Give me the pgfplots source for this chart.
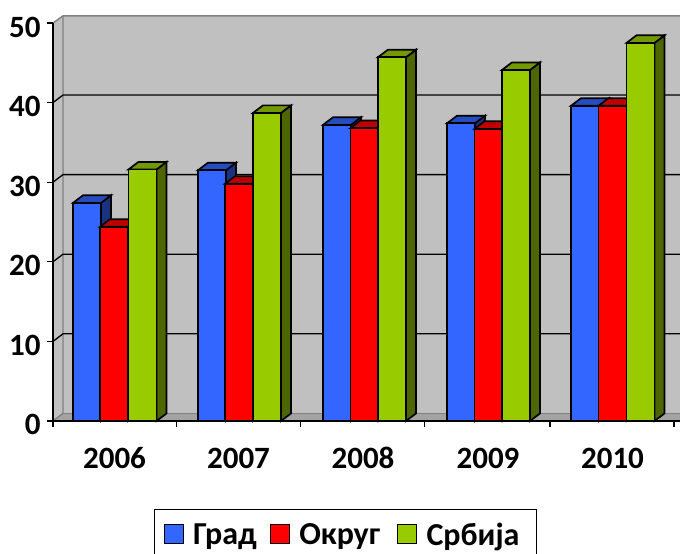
\documentclass[border=0pt]{standalone}
\usepackage{fontspec}
\setmainfont[Numbers=Lining]{Carlito}
\usepackage{pgfplots}
\usepackage{pgfplotstable}
\pgfplotsset{compat=1.18}

\definecolor{wall}{HTML}{C0C0C0}
\definecolor{floor}{HTML}{A3A3A3}
\definecolor{wallline}{HTML}{808080}
\definecolor{blueF}{HTML}{3366FF}
\definecolor{blueT}{HTML}{264DBF}
\definecolor{blueS}{HTML}{1A3380}
\definecolor{redF}{HTML}{FF0000}
\definecolor{redT}{HTML}{BF0000}
\definecolor{redS}{HTML}{800000}
\definecolor{greenF}{HTML}{99CC00}
\definecolor{greenT}{HTML}{739900}
\definecolor{greenS}{HTML}{4D6600}

% x is in picture pixels, v is the value
\pgfplotstableread{
x v
87 27.4
212 31.5
337 37.2
461 37.4
585 39.6
}\grad
\pgfplotstableread{
x v
114 24.4
239 29.8
364.5 36.8
488.5 36.7
612.5 39.6
}\okrug
\pgfplotstableread{
x v
142.5 31.6
267 38.7
392 45.7
516 44.1
640.5 47.5
}\srbija

% one series: side and top faces, then the front bars
\newcommand{\series}[4]{%
  \pgfplotsinvokeforeach{0,...,4}{%
    \pgfplotstablegetelem{##1}{x}\of{#1}\let\bx\pgfplotsretval
    \pgfplotstablegetelem{##1}{v}\of{#1}\let\bv\pgfplotsretval
    \pgfmathsetmacro{\xa}{\bx-14}
    \pgfmathsetmacro{\xb}{\bx+14}
    \pgfmathsetmacro{\xc}{\bx+24}
    \pgfmathsetmacro{\xd}{\bx-4}
    \pgfmathsetmacro{\vt}{\bv+0.95}
    \edef\tmp{\noexpand\addplot[fill=#3,barline,forget plot] coordinates
      {(\xb,0) (\xc,0.95) (\xc,\vt) (\xb,\bv)} --cycle;
      \noexpand\addplot[fill=#2,barline,forget plot] coordinates
      {(\xa,\bv) (\xd,\vt) (\xc,\vt) (\xb,\bv)} --cycle;}
    \tmp
  }%
  \addplot[ybar, bar width=28, bar shift=0pt, fill=#4, barline] table[x=x,y=v] {#1};
}

\begin{document}
\begin{tikzpicture}[x=1pt,y=1pt]
\path[use as bounding box] (0,0) rectangle (680,554);
\begin{axis}[
  at={(53pt,133pt)}, anchor=origin,
  scale only axis, width=627pt, height=398pt,
  xmin=53, xmax=680, ymin=0, ymax=50,
  clip=false, axis on top,
  axis lines=left,
  axis line style={-, line width=1.6pt},
  barline/.style={draw=black, line width=1.7pt, line join=miter},
  tick align=outside,
  ytick={0,10,...,50},
  xtick={114.5,238.5,363,488,612.5},
  xticklabels={2006,2007,2008,2009,2010},
  minor xtick={53,176.5,300.5,424.5,550,674},
  major tick length=6pt, minor tick length=6pt,
  major x tick style={draw=none},
  tick style={black, line width=1.3pt},
  minor tick style={black, line width=1.3pt},
  /pgf/number format/assume math mode=true,
  tick label style={font=\bfseries\fontsize{31}{31}\selectfont},
  xticklabel style={yshift=-18pt, text height=20pt, text depth=0pt},
  yticklabel style={xshift=-3pt, yshift=-4pt, text height=20pt, text depth=0pt},
  legend columns=3,
  legend style={at={(axis cs:154,-11)}, anchor=north west, draw=black,
    line width=1.4pt, inner xsep=9pt, inner ysep=12pt,
    font=\bfseries\fontsize{32}{32}\selectfont,
    /tikz/every even column/.append style={column sep=11pt}},
  legend image code/.code={\draw[#1, line width=1.2pt] (0pt,-8pt) rectangle (19pt,11pt);
    \path (26pt,0pt);},
]
% walls and floor
\addplot[fill=wall, draw=none, forget plot] coordinates {(63,0.95) (680,0.95) (680,50.9) (63,50.9)} --cycle;
\addplot[fill=wall, draw=none, forget plot] coordinates {(53,0) (63,0.95) (63,50.9) (53,50)} --cycle;
\addplot[fill=floor, draw=none, forget plot] coordinates {(53,0) (63,0.95) (680,0.95) (680,0)} --cycle;
\addplot[wallline, line width=1.4pt, forget plot] coordinates {(53,50) (63,50.9) (680,50.9)};
\addplot[wallline, line width=1.4pt, forget plot] coordinates {(53,0) (63,0.95) (63,50.9)};
\addplot[wallline, line width=1.4pt, forget plot] coordinates {(63,0.95) (680,0.95)};
% gridlines
\addplot[black, line width=1.3pt, forget plot] coordinates {(53,10) (63,10.95) (680,10.95)};
\addplot[black, line width=1.3pt, forget plot] coordinates {(53,20) (63,20.95) (680,20.95)};
\addplot[black, line width=1.3pt, forget plot] coordinates {(53,30) (63,30.95) (680,30.95)};
\addplot[black, line width=1.3pt, forget plot] coordinates {(53,40) (63,40.95) (680,40.95)};
% series
\series{\grad}{blueT}{blueS}{blueF}
\series{\okrug}{redT}{redS}{redF}
\series{\srbija}{greenT}{greenS}{greenF}
\legend{Град, Округ\rule{4pt}{0pt}, Србија\rule{6pt}{0pt}}
\end{axis}
\end{tikzpicture}
\end{document}
